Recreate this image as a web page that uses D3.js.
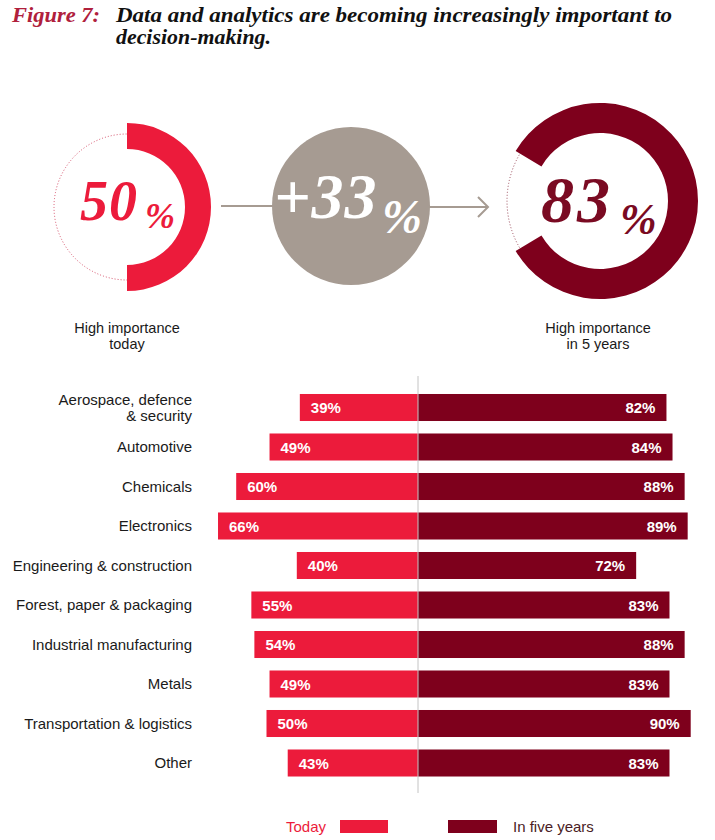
<!DOCTYPE html>
<html>
<head>
<meta charset="utf-8">
<script src="https://cdn.jsdelivr.net/npm/d3@7"></script>
<style>
  html, body { margin: 0; padding: 0; background: #fff; }
  svg { display: block; }
</style>
</head>
<body>
<svg id="chart" width="715" height="840"></svg>
<script>
// ---------- data ----------
const titleLabel = "Figure 7:";
const titleLines = ["Data and analytics are becoming increasingly important to", "decision-making."];
const overallToday = 50;
const overallFuture = 83;
const overallChange = 33;
const summaryLabelsToday = ["High importance", "today"];
const summaryLabelsFuture = ["High importance", "in 5 years"];
const categories = [
  "Aerospace, defence\n& security",
  "Automotive",
  "Chemicals",
  "Electronics",
  "Engineering & construction",
  "Forest, paper & packaging",
  "Industrial manufacturing",
  "Metals",
  "Transportation & logistics",
  "Other"
];
const todayValues = [39, 49, 60, 66, 40, 55, 54, 49, 50, 43];
const fiveYearValues = [82, 84, 88, 89, 72, 83, 88, 83, 90, 83];
const legendLabels = ["Today", "In five years"];

// ---------- styles ----------
const RED = "#ec1b3b";
const DARK = "#7e001c";
const GREY = "#a69b92";
const SERIF = "'Liberation Serif', 'Times New Roman', serif";
const SANS = "'Liberation Sans', Arial, sans-serif";

const svg = d3.select("#chart");

// ---------- title ----------
svg.append("text")
  .attr("x", 12).attr("y", 22)
  .attr("font-family", SERIF).attr("font-style", "italic").attr("font-weight", "bold")
  .attr("font-size", 20).attr("fill", "#b0203c")
  .attr("textLength", 88).attr("lengthAdjust", "spacingAndGlyphs")
  .text(titleLabel);
const titleLens = [556, 155];
titleLines.forEach((t, i) => {
  svg.append("text")
    .attr("x", 116).attr("y", 22 + i * 22)
    .attr("font-family", SERIF).attr("font-style", "italic").attr("font-weight", "bold")
    .attr("font-size", 20).attr("fill", "#111")
    .attr("textLength", titleLens[i]).attr("lengthAdjust", "spacingAndGlyphs")
    .text(t);
});

// ---------- summary donuts ----------
const angle = d3.scaleLinear().domain([0, 100]).range([0, 2 * Math.PI]);
function donut(cx, cy, rIn, rOut, value, color, dotR, dotColor) {
  const g = svg.append("g").attr("transform", `translate(${cx},${cy})`);
  g.append("circle").attr("r", dotR).attr("fill", "none")
    .attr("stroke", dotColor).attr("stroke-width", 1).attr("stroke-dasharray", "1,2");
  const a = angle(value);
  const arc = d3.arc().innerRadius(rIn).outerRadius(rOut)
    .startAngle(Math.PI / 2 - a / 2).endAngle(Math.PI / 2 + a / 2);
  g.append("path").attr("d", arc()).attr("fill", color);
  return g;
}
donut(127, 207, 58, 84, overallToday, RED, 73, "#d6506a");
donut(600, 201, 68, 98, overallFuture, DARK, 93, "#9a4a5a");

// connector lines
svg.append("line").attr("x1", 221).attr("x2", 273).attr("y1", 206).attr("y2", 206)
  .attr("stroke", GREY).attr("stroke-width", 2);
svg.append("line").attr("x1", 429).attr("x2", 487).attr("y1", 207).attr("y2", 207)
  .attr("stroke", GREY).attr("stroke-width", 2);
svg.append("path").attr("d", "M478,197 L488,207 L478,217")
  .attr("fill", "none").attr("stroke", GREY).attr("stroke-width", 2);

// grey change circle
svg.append("circle").attr("cx", 351).attr("cy", 206).attr("r", 79).attr("fill", GREY);

function bigNumber(x, y, num, fs, ls, px, py, pfs, color) {
  svg.append("text").attr("x", x).attr("y", y)
    .attr("font-family", SERIF).attr("font-style", "italic").attr("font-weight", "bold")
    .attr("font-size", fs).attr("letter-spacing", ls).attr("fill", color)
    .text(num);
  svg.append("text").attr("x", px).attr("y", py)
    .attr("font-family", SERIF).attr("font-style", "italic").attr("font-weight", "bold")
    .attr("font-size", pfs).attr("fill", color)
    .text("%");
}
bigNumber(80, 220, String(overallToday), 56, 1, 145, 228, 36, RED);
bigNumber(274, 218, "+" + overallChange, 64, 1, 382, 233, 48, "#fff");
bigNumber(541, 222, String(overallFuture), 66, 3, 620, 234, 44, "#7a0a22");

function summaryLabel(cx, lines) {
  lines.forEach((t, i) => {
    svg.append("text").attr("x", cx).attr("y", 333 + i * 16)
      .attr("text-anchor", "middle").attr("font-family", SANS)
      .attr("font-size", 14.5).attr("fill", "#1a1a1a").text(t);
  });
}
summaryLabel(127, summaryLabelsToday);
summaryLabel(598, summaryLabelsFuture);

// ---------- diverging bars ----------
const cx0 = 418;
const xs = d3.scaleLinear().domain([0, 100]).range([0, 303]);
const y = d3.scaleBand().domain(categories).range([387.75, 782.75])
  .paddingInner(0.316).paddingOuter(0.158);

const rows = svg.append("g").selectAll("g").data(categories).join("g");

rows.append("rect")
  .attr("x", (d, i) => cx0 - xs(todayValues[i]))
  .attr("y", d => y(d))
  .attr("width", (d, i) => xs(todayValues[i]))
  .attr("height", y.bandwidth())
  .attr("fill", RED);
rows.append("rect")
  .attr("x", cx0)
  .attr("y", d => y(d))
  .attr("width", (d, i) => xs(fiveYearValues[i]))
  .attr("height", y.bandwidth())
  .attr("fill", DARK);

rows.append("text")
  .attr("x", (d, i) => cx0 - xs(todayValues[i]) + 11)
  .attr("y", d => y(d) + y.bandwidth() / 2 + 5.5)
  .attr("font-family", SANS).attr("font-weight", "bold").attr("font-size", 15)
  .attr("fill", "#fff")
  .text((d, i) => todayValues[i] + "%");
rows.append("text")
  .attr("x", (d, i) => cx0 + xs(fiveYearValues[i]) - 11)
  .attr("y", d => y(d) + y.bandwidth() / 2 + 5.5)
  .attr("text-anchor", "end")
  .attr("font-family", SANS).attr("font-weight", "bold").attr("font-size", 15)
  .attr("fill", "#fff")
  .text((d, i) => fiveYearValues[i] + "%");

rows.each(function(d) {
  const lines = d.split("\n");
  const mid = y(d) + y.bandwidth() / 2;
  const lh = 16;
  const start = mid + 5 - (lines.length - 1) * lh / 2;
  lines.forEach((t, j) => {
    d3.select(this).append("text")
      .attr("x", 192).attr("y", start + j * lh)
      .attr("text-anchor", "end").attr("font-family", SANS)
      .attr("font-size", 15).attr("fill", "#1a1a1a").text(t);
  });
});

// centre line
svg.append("line").attr("x1", cx0).attr("x2", cx0).attr("y1", 376).attr("y2", 793)
  .attr("stroke", "#c4c4c4").attr("stroke-width", 1);

// ---------- legend ----------
svg.append("text").attr("x", 326).attr("y", 832).attr("text-anchor", "end")
  .attr("font-family", SANS).attr("font-size", 15).attr("fill", RED).text(legendLabels[0]);
svg.append("rect").attr("x", 340).attr("y", 820).attr("width", 48).attr("height", 13).attr("fill", RED);
svg.append("rect").attr("x", 448).attr("y", 820).attr("width", 49).attr("height", 13).attr("fill", DARK);
svg.append("text").attr("x", 513).attr("y", 832)
  .attr("font-family", SANS).attr("font-size", 15).attr("fill", "#4a1c24").text(legendLabels[1]);
</script>
</body>
</html>
